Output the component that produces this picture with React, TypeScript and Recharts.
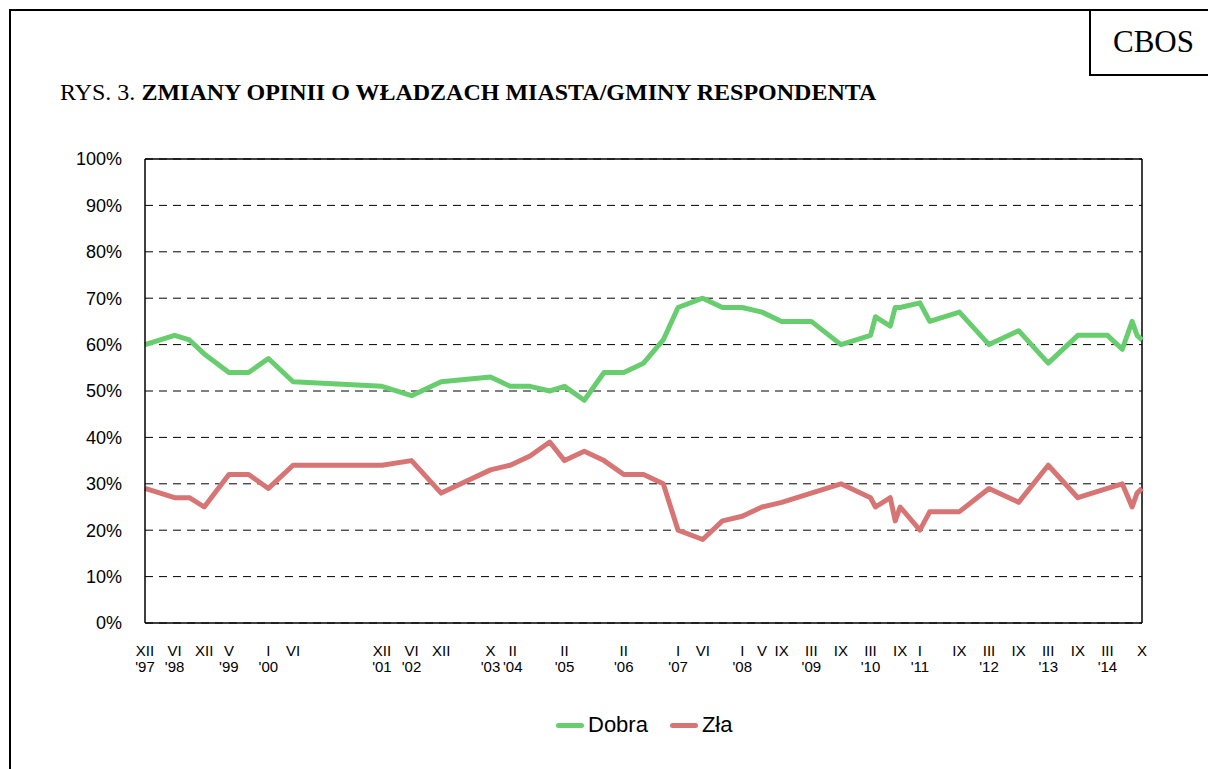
import React from 'react';
import { LineChart, Line, XAxis, YAxis, CartesianGrid, Legend, ReferenceLine } from 'recharts';

// months counted from XII 1997
const surveyMonths = [0, 6, 9, 12, 17, 21, 25, 30, 48, 54, 60, 70, 74, 78, 82, 85, 89, 93, 97, 101, 105, 108, 113, 117, 121, 125, 129, 135, 141, 147, 148, 151, 152, 153, 157, 159, 165, 171, 177, 183, 189, 195, 198, 200, 201, 202];
const dobra = [60, 62, 61, 58, 54, 54, 57, 52, 51, 49, 52, 53, 51, 51, 50, 51, 48, 54, 54, 56, 61, 68, 70, 68, 68, 67, 65, 65, 60, 62, 66, 64, 68, 68, 69, 65, 67, 60, 63, 56, 62, 62, 59, 65, 62, 61];
const zla = [29, 27, 27, 25, 32, 32, 29, 34, 34, 35, 28, 33, 34, 36, 39, 35, 37, 35, 32, 32, 30, 20, 18, 22, 23, 25, 26, 28, 30, 27, 25, 27, 22, 25, 20, 24, 24, 29, 26, 34, 27, 29, 30, 25, 28, 29];

const tickMonths = [0, 6, 12, 17, 25, 30, 48, 54, 60, 70, 74.5, 85, 97, 108, 113, 121, 125, 129, 135, 141, 147, 153, 157, 165, 171, 177, 183, 189, 195, 202];
const tickRoman = ['XII', 'VI', 'XII', 'V', 'I', 'VI', 'XII', 'VI', 'XII', 'X', 'II', 'II', 'II', 'I', 'VI', 'I', 'V', 'IX', 'III', 'IX', 'III', 'IX', 'I', 'IX', 'III', 'IX', 'III', 'IX', 'III', 'X'];
const tickYear = ["'97", "'98", '', "'99", "'00", '', "'01", "'02", '', "'03", "'04", "'05", "'06", "'07", '', "'08", '', '', "'09", '', "'10", '', "'11", '', "'12", '', "'13", '', "'14", ''];

const yTicks = [0, 10, 20, 30, 40, 50, 60, 70, 80, 90, 100];

const GREEN = '#68cd6f';
const RED = '#d77575';

const data = surveyMonths.map((m, i) => ({ m, dobra: dobra[i], zla: zla[i] }));

const MonthTick = (props: any) => {
  const { x, y, payload } = props;
  const i = tickMonths.indexOf(payload.value);
  return (
    <text x={x} y={y} textAnchor="middle" fontFamily="Liberation Sans" fontSize={15} fill="#000">
      <tspan x={x} dy={31}>{tickRoman[i]}</tspan>
      <tspan x={x} dy={16}>{tickYear[i]}</tspan>
    </text>
  );
};

const renderLegend = (props: any) => {
  const { payload } = props;
  return (
    <div style={{ height: 40, display: 'flex', alignItems: 'center', paddingLeft: 556, fontFamily: 'Liberation Sans', fontSize: 22 }}>
      {payload.map((p: any) => (
        <div key={p.value} style={{ display: 'flex', alignItems: 'center', marginRight: 22 }}>
          <div style={{ width: 28, height: 5, borderRadius: 3, background: p.color, marginRight: 4 }} />
          <span>{p.value}</span>
        </div>
      ))}
    </div>
  );
};

export default function App() {
  return (
    <div style={{ position: 'absolute', left: 0, top: 0, width: 1208, height: 769, overflow: 'hidden', background: '#fff' }}>
      <div style={{ position: 'absolute', left: 9, top: 9, width: 1400, height: 1000, border: '2px solid #000' }} />
      <div style={{ position: 'absolute', left: 1089, top: 9, width: 200, height: 65, borderLeft: '2px solid #000', borderBottom: '2px solid #000' }} />
      <div style={{ position: 'absolute', left: 1113, top: 26, fontFamily: 'Liberation Serif', fontSize: 31, lineHeight: '31px' }}>CBOS</div>
      <div style={{ position: 'absolute', left: 60, top: 80, fontFamily: 'Liberation Serif', fontSize: 24, lineHeight: '24px', whiteSpace: 'nowrap' }}>
        RYS. 3. <b>ZMIANY OPINII O WŁADZACH MIASTA/GMINY RESPONDENTA</b>
      </div>
      <div style={{ position: 'absolute', left: 0, top: 0 }}>
        <LineChart width={1208} height={769} data={data} margin={{ top: 159, right: 66, left: 65, bottom: 24 }}>
          <CartesianGrid vertical={false} stroke="#000" strokeDasharray="8 6" />
          <XAxis
            dataKey="m"
            type="number"
            domain={[0, 202]}
            ticks={tickMonths}
            interval={0}
            tick={<MonthTick />}
            tickLine={false}
            tickSize={0}
            height={82}
            axisLine={{ stroke: '#000', strokeWidth: 1.5 }}
          />
          <YAxis
            domain={[0, 100]}
            ticks={yTicks}
            interval={0}
            width={80}
            tickLine={false}
            tickSize={0}
            tickMargin={23}
            tickFormatter={(v: number) => `${v}%`}
            tick={{ fill: '#000', fontFamily: 'Liberation Sans', fontSize: 18 }}
            axisLine={{ stroke: '#000', strokeWidth: 1.5 }}
          />
          <ReferenceLine y={100} stroke="#000" strokeWidth={1.5} />
          <ReferenceLine x={202} stroke="#000" strokeWidth={1.5} />
          <Line type="linear" dataKey="dobra" name="Dobra" stroke={GREEN} strokeWidth={5} dot={false} strokeLinejoin="round" isAnimationActive={false} />
          <Line type="linear" dataKey="zla" name="Zła" stroke={RED} strokeWidth={5} dot={false} strokeLinejoin="round" isAnimationActive={false} />
          <Legend verticalAlign="bottom" content={renderLegend} wrapperStyle={{ left: 0, width: 1208 }} />
        </LineChart>
      </div>
    </div>
  );
}
